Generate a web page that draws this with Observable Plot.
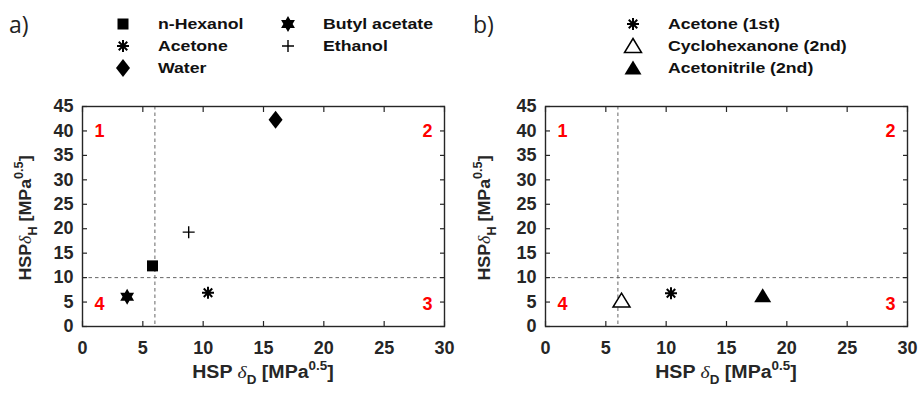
<!DOCTYPE html>
<html><head><meta charset="utf-8">
<script src="https://cdn.jsdelivr.net/npm/d3@7"></script>
<script src="https://cdn.jsdelivr.net/npm/@observablehq/plot@0.6"></script>
<style>
html,body{margin:0;padding:0;background:#fff;}
#root{position:relative;width:918px;height:394px;overflow:hidden;background:#fff;}
#legend{position:absolute;left:0;top:0;}
#pa{position:absolute;left:0;top:95px;}
#pb{position:absolute;left:459px;top:95px;}
</style></head><body>
<div id="root"><svg id="legend" width="918" height="95"></svg><div id="pa"></div><div id="pb"></div></div>
<script>
// ---- data ----
const solventsA = ["n-Hexanol", "Acetone", "Water", "Butyl acetate", "Ethanol"];
const deltaDA = [5.8, 10.4, 16.0, 3.7, 8.8];
const deltaHA = [12.4, 6.9, 42.3, 6.1, 19.3];
const markersA = ["square", "asterisk", "diamond", "hexagram", "plus"];

const solventsB = ["Acetone (1st)", "Cyclohexanone (2nd)", "Acetonitrile (2nd)"];
const deltaDB = [10.4, 6.3, 18.0];
const deltaHB = [6.8, 5.3, 6.3];
const markersB = ["asterisk", "triangleOpen", "triangle"];

const xTicks = [0, 5, 10, 15, 20, 25, 30];
const yTicks = [0, 5, 10, 15, 20, 25, 30, 35, 40, 45];
const thresholdD = [6];
const thresholdH = [10];
const quadrantLabels = ["1", "2", "3", "4"];
const quadrantD = [1.4, 28.6, 28.6, 1.4];
const quadrantH = [40, 40, 4.5, 4.5];

// ---- symbols ----
function poly(pts) {
  return {draw(ctx) { ctx.moveTo(pts[0][0], pts[0][1]); for (let i = 1; i < pts.length; i++) ctx.lineTo(pts[i][0], pts[i][1]); ctx.closePath(); }};
}
const hexPts = d3.range(12).map(i => { const a = (-90 + i * 30) * Math.PI / 180; const r = i % 2 ? 4.6 : 8; return [r * Math.cos(a), r * Math.sin(a)]; });
const triPts = [[0, -7.5], [8.5, 6.5], [-8.5, 6.5]];
const symbolDefs = {
  square: {shape: poly([[-5.5, -5.5], [5.5, -5.5], [5.5, 5.5], [-5.5, 5.5]]), fill: "#000", stroke: "none", sw: 0},
  diamond: {shape: poly([[0, -9], [7, 0], [0, 9], [-7, 0]]), fill: "#000", stroke: "none", sw: 0},
  hexagram: {shape: poly(hexPts), fill: "#000", stroke: "none", sw: 0},
  asterisk: {shape: {draw(ctx) { [0, 45, 90, 135].forEach(a => { const c = 6 * Math.cos(a * Math.PI / 180), s = 6 * Math.sin(a * Math.PI / 180); ctx.moveTo(-c, -s); ctx.lineTo(c, s); }); }}, fill: "none", stroke: "#000", sw: 2},
  plus: {shape: {draw(ctx) { ctx.moveTo(-6, 0); ctx.lineTo(6, 0); ctx.moveTo(0, -6); ctx.lineTo(0, 6); }}, fill: "none", stroke: "#000", sw: 1.4},
  triangleOpen: {shape: poly(triPts), fill: "#fff", stroke: "#000", sw: 1.5},
  triangle: {shape: poly(triPts), fill: "#000", stroke: "none", sw: 0}
};

const quadTable = quadrantLabels.map((t, i) => ({t, d: quadrantD[i], h: quadrantH[i]}));
const ink = "#262626";
const baseFont = "Liberation Sans, Arial, Helvetica, sans-serif";

function panel(solvents, dD, dH, markers, ml, mr) {
  const table = solvents.map((s, i) => ({s, d: dD[i], h: dH[i], m: markers[i]}));
  const dots = [...new Set(markers)].map(m => {
    const def = symbolDefs[m];
    return Plot.dot(table.filter(r => r.m === m), {x: "d", y: "h", symbol: def.shape, fill: def.fill, stroke: def.stroke, strokeWidth: def.sw});
  });
  const svg = Plot.plot({
    width: 459, height: 299,
    marginLeft: ml, marginRight: mr, marginTop: 11, marginBottom: 68,
    x: {domain: [0, 30]}, y: {domain: [0, 45]},
    style: {color: ink, background: "transparent", overflow: "visible"},
    marks: [
      Plot.ruleX(thresholdD, {stroke: "#555", strokeWidth: 0.9, strokeDasharray: "3.5,3"}),
      Plot.ruleY(thresholdH, {stroke: "#555", strokeWidth: 0.9, strokeDasharray: "3.5,3"}),
      Plot.axisX(xTicks, {anchor: "bottom", tickSize: 0, tickPadding: 15, label: null}),
      Plot.axisX(xTicks, {anchor: "bottom", tickSize: -5, fill: "none", label: null, strokeWidth: 1.2}),
      Plot.axisX(xTicks, {anchor: "top", tickSize: -5, fill: "none", label: null, strokeWidth: 1.2}),
      Plot.axisY(yTicks, {anchor: "left", tickSize: 0, tickPadding: 9, label: null}),
      Plot.axisY(yTicks, {anchor: "left", tickSize: -5, fill: "none", label: null, strokeWidth: 1.2}),
      Plot.axisY(yTicks, {anchor: "right", tickSize: -5, fill: "none", label: null, strokeWidth: 1.2}),
      Plot.text(quadTable, {x: "d", y: "h", text: "t", fill: "#ff0000"}),
      ...dots,
      Plot.frame({stroke: ink, strokeWidth: 1.4})
    ]
  });
  const s = d3.select(svg);
  s.selectAll("text")
    .attr("font-family", null).attr("font-size", null).attr("font-weight", null)
    .style("font-family", baseFont).style("font-size", "18px").style("font-weight", "700");
  s.selectAll("g").attr("font-family", null).attr("font-size", null).attr("font-weight", null);
  s.attr("font-family", baseFont).attr("font-size", 18).attr("font-weight", "bold");
  return svg;
}

function addAxisLabels(svg, cx, cy) {
  const s = d3.select(svg);
  const xl = s.append("text")
    .attr("transform", `translate(${cx},283) scale(1.12,1)`)
    .attr("text-anchor", "middle").attr("fill", ink)
    .style("font-family", baseFont).style("font-size", "17.5px").style("font-weight", "bold");
  xl.append("tspan").text("HSP ");
  xl.append("tspan").style("font-family", "Liberation Serif, DejaVu Serif, serif").style("font-style", "italic").style("font-weight", "normal").text("δ");
  xl.append("tspan").attr("dy", 6).style("font-size", "12px").text("D");
  xl.append("tspan").attr("dy", -6).text(" [MPa");
  xl.append("tspan").attr("dy", -8).style("font-size", "12px").text("0.5");
  xl.append("tspan").attr("dy", 8).text("]");

  const yl = s.append("text")
    .attr("transform", `translate(31,${cy}) rotate(-90) scale(1.05,1)`)
    .attr("text-anchor", "middle").attr("fill", ink)
    .style("font-family", baseFont).style("font-size", "17px").style("font-weight", "bold");
  yl.append("tspan").text("HSP");
  yl.append("tspan").style("font-family", "Liberation Serif, DejaVu Serif, serif").style("font-style", "italic").style("font-weight", "normal").text("δ");
  yl.append("tspan").attr("dy", 6).style("font-size", "12px").text("H");
  yl.append("tspan").attr("dy", -6).text(" [MPa");
  yl.append("tspan").attr("dy", -8).style("font-size", "12px").text("0.5");
  yl.append("tspan").attr("dy", 8).text("]");
}

const svgA = panel(solventsA, deltaDA, deltaHA, markersA, 82, 15);
addAxisLabels(svgA, 263, 123);
document.getElementById("pa").appendChild(svgA);

const svgB = panel(solventsB, deltaDB, deltaHB, markersB, 86, 11);
addAxisLabels(svgB, 267, 123);
document.getElementById("pb").appendChild(svgB);

// ---- legends & panel tags ----
const lg = d3.select("#legend");
lg.append("text").attr("x", 9).attr("y", 33).attr("fill", "#222").style("font-family", "Open Sans, sans-serif").style("font-size", "23px").text("a)");
lg.append("text").attr("x", 473).attr("y", 33).attr("fill", "#222").style("font-family", "Open Sans, sans-serif").style("font-size", "23px").text("b)");

const rowY = [24, 46, 68];
function legendItems(solvents, markers, symX, txtX) {
  solvents.forEach((name, i) => {
    const col = Math.floor(i / 3), row = i % 3;
    const def = symbolDefs[markers[i]];
    const sx = symX[col], tx = txtX[col], y = rowY[row];
    lg.append("path").attr("d", d3.symbol().type(def.shape)())
      .attr("transform", `translate(${sx},${y})`)
      .attr("fill", def.fill).attr("stroke", def.stroke).attr("stroke-width", def.sw);
    lg.append("text").attr("transform", `translate(${tx},${y + 5}) scale(1.22,1)`)
      .attr("fill", "#111").style("font-family", baseFont).style("font-size", "14.5px").style("font-weight", "bold")
      .text(name);
  });
}
legendItems(solventsA, markersA, [123, 288], [158, 323]);
legendItems(solventsB, markersB, [633], [668]);
</script>
</body></html>
